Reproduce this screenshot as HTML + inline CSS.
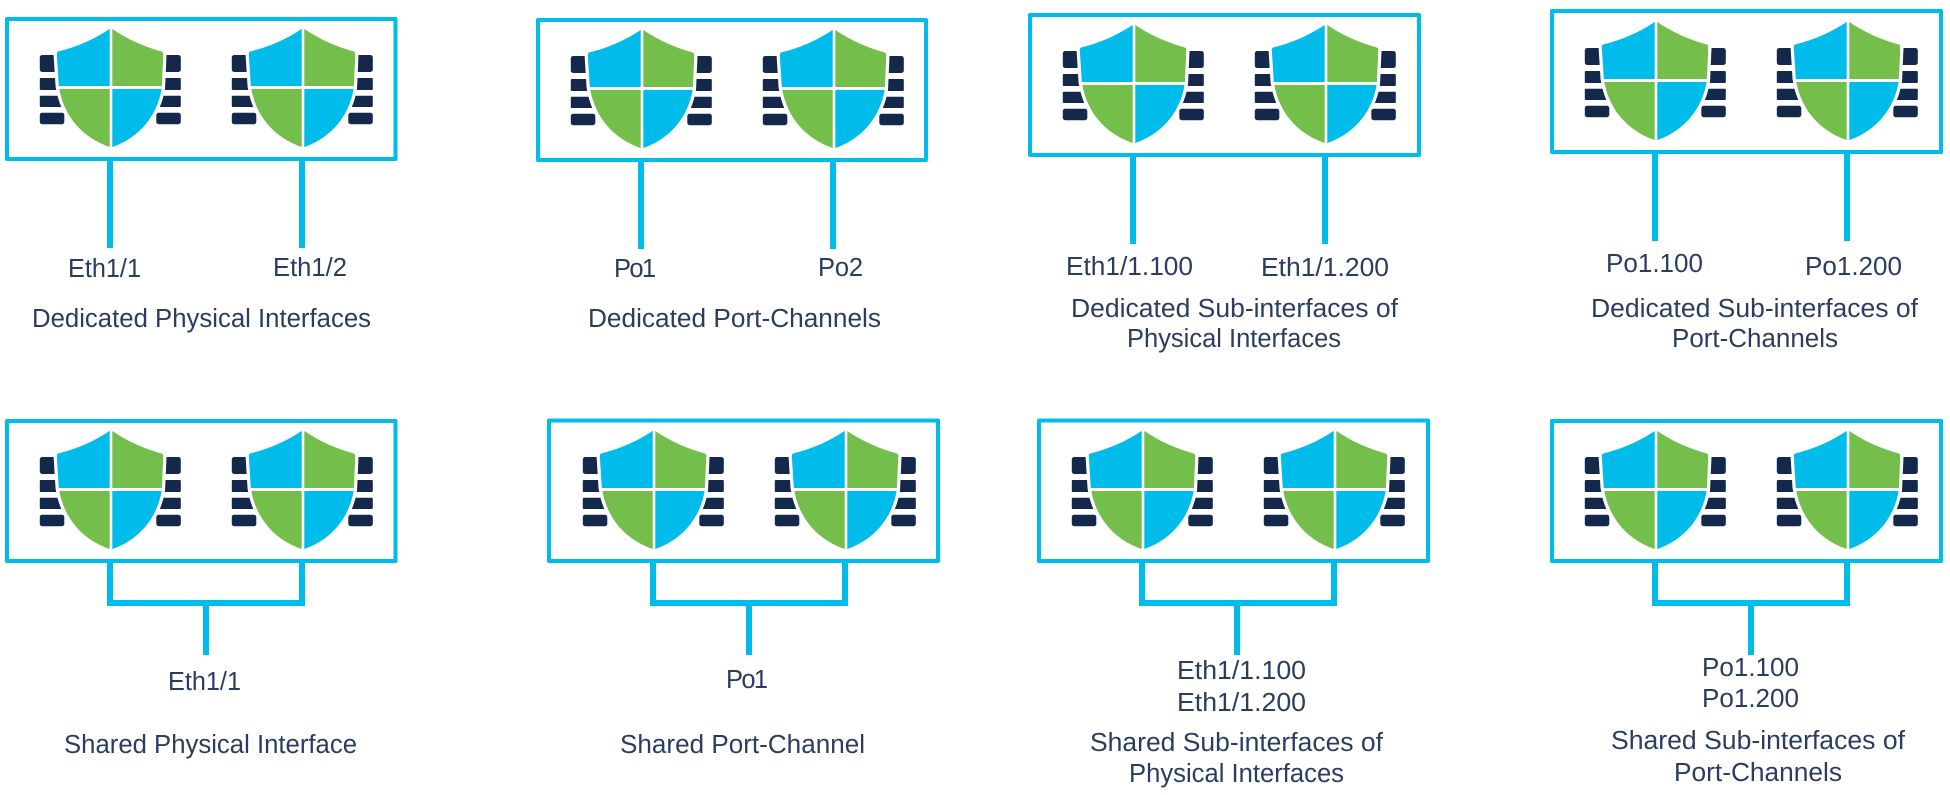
<!DOCTYPE html>
<html lang="en">
<head>
<meta charset="utf-8">
<title>Interface types</title>
<style>
html,body{margin:0;padding:0;background:#fff;}
svg{display:block;}
text{font-family:"Liberation Sans",Arial,sans-serif;font-size:25.5px;fill:#2a3d60;}
.b{fill:none;stroke:#00bceb;stroke-width:4;stroke-linejoin:round;}
.l{fill:none;stroke:#00bceb;stroke-width:6;stroke-linejoin:miter;}
</style>
</head>
<body>
<svg xmlns="http://www.w3.org/2000/svg" width="1950" height="795" viewBox="0 0 1950 795">
<defs>
<path id="sil" d="M0.7,0 C-15,11 -34,19 -52,23.5 Q-53.5,24 -53.5,26 L-51.5,58 C-47,88 -28,110 0.7,119.5 C29,110 47,88 51.5,60 L53,26 Q53,24 51.5,23.5 C35,19 16,11 0.7,0 Z"/>
<clipPath id="sc"><use href="#sil"/></clipPath>
<g id="icon">
<g fill="#14284b">
<rect x="-70.5" y="27" width="24" height="17" rx="2.5"/>
<rect x="-70.5" y="50" width="24" height="12" rx="1"/>
<rect x="-70.5" y="67.7" width="24" height="11.300" rx="1"/>
<rect x="-70.5" y="84.7" width="24.500" height="11.500" rx="2.5"/>
<rect x="46.5" y="27" width="24" height="17" rx="2.5"/>
<rect x="46.5" y="50" width="24" height="12" rx="1"/>
<rect x="46.5" y="67.7" width="24" height="11.300" rx="1"/>
<rect x="46" y="84.7" width="24.500" height="11.500" rx="2.5"/>
</g>
<use href="#sil" fill="#fff" stroke="#fff" stroke-width="6.5" stroke-linejoin="round"/>
<g clip-path="url(#sc)">
<rect x="-60" y="-3" width="59.4" height="61" fill="#00bceb"/>
<rect x="2" y="-3" width="60" height="61" fill="#74bf4b"/>
<rect x="-60" y="61" width="59.4" height="62" fill="#74bf4b"/>
<rect x="2" y="61" width="60" height="62" fill="#00bceb"/>
</g>
</g>
</defs>
<rect width="1950" height="795" fill="#fff"/>

<!-- Panel 1 -->
<rect class="b" x="7" y="19" width="388.5" height="140"/>
<use href="#icon" x="110.3" y="28"/><use href="#icon" x="302.3" y="28"/>
<path class="l" d="M110,161V248M302,161V248"/>
<text x="68" y="277" textLength="73" lengthAdjust="spacingAndGlyphs">Eth1/1</text>
<text x="273" y="276" textLength="74" lengthAdjust="spacingAndGlyphs">Eth1/2</text>
<text x="32" y="327" textLength="339" lengthAdjust="spacingAndGlyphs">Dedicated Physical Interfaces</text>

<!-- Panel 2 -->
<rect class="b" x="538" y="20" width="388" height="140"/>
<use href="#icon" x="641.3" y="29"/><use href="#icon" x="833.3" y="29"/>
<path class="l" d="M641,162V249M833,162V249"/>
<text x="614" y="277" textLength="42" lengthAdjust="spacing">Po1</text>
<text x="818" y="276" textLength="45" lengthAdjust="spacing">Po2</text>
<text x="588" y="327" textLength="293" lengthAdjust="spacingAndGlyphs">Dedicated Port-Channels</text>

<!-- Panel 3 -->
<rect class="b" x="1030" y="15" width="389" height="140"/>
<use href="#icon" x="1133.3" y="24"/><use href="#icon" x="1325.3" y="24"/>
<path class="l" d="M1133,157V244M1325,157V244"/>
<text x="1066" y="275" textLength="127" lengthAdjust="spacingAndGlyphs">Eth1/1.100</text>
<text x="1261" y="276" textLength="128" lengthAdjust="spacingAndGlyphs">Eth1/1.200</text>
<text x="1071" y="317" textLength="327" lengthAdjust="spacingAndGlyphs">Dedicated Sub-interfaces of</text>
<text x="1127" y="347" textLength="214" lengthAdjust="spacingAndGlyphs">Physical Interfaces</text>

<!-- Panel 4 -->
<rect class="b" x="1552" y="11" width="389" height="141"/>
<use href="#icon" x="1655.3" y="21"/><use href="#icon" x="1847.3" y="21"/>
<path class="l" d="M1655,154V241M1847,154V241"/>
<text x="1606" y="272" textLength="97" lengthAdjust="spacingAndGlyphs">Po1.100</text>
<text x="1805" y="275" textLength="97" lengthAdjust="spacingAndGlyphs">Po1.200</text>
<text x="1591" y="317" textLength="327" lengthAdjust="spacingAndGlyphs">Dedicated Sub-interfaces of</text>
<text x="1672" y="347" textLength="166" lengthAdjust="spacingAndGlyphs">Port-Channels</text>

<!-- Panel 5 -->
<rect class="b" x="7" y="421" width="388.5" height="140"/>
<use href="#icon" x="110.3" y="430"/><use href="#icon" x="302.3" y="430"/>
<path class="l" d="M110,563V603H302V563M206,603V655"/>
<text x="168" y="690" textLength="73" lengthAdjust="spacingAndGlyphs">Eth1/1</text>
<text x="64" y="753" textLength="293" lengthAdjust="spacingAndGlyphs">Shared Physical Interface</text>

<!-- Panel 6 -->
<rect class="b" x="549" y="420.500" width="389" height="140.500"/>
<use href="#icon" x="653.3" y="430"/><use href="#icon" x="845.3" y="430"/>
<path class="l" d="M653,563V603H845V563M749,603V655"/>
<text x="726" y="688" textLength="42" lengthAdjust="spacing">Po1</text>
<text x="620" y="753" textLength="245" lengthAdjust="spacingAndGlyphs">Shared Port-Channel</text>

<!-- Panel 7 -->
<rect class="b" x="1039" y="420.500" width="389" height="140.500"/>
<use href="#icon" x="1142.3" y="430"/><use href="#icon" x="1334.3" y="430"/>
<path class="l" d="M1142,563V603H1334V563M1237,603V655"/>
<text x="1177" y="679" textLength="129" lengthAdjust="spacingAndGlyphs">Eth1/1.100</text>
<text x="1177" y="711" textLength="129" lengthAdjust="spacingAndGlyphs">Eth1/1.200</text>
<text x="1090" y="751" textLength="293" lengthAdjust="spacingAndGlyphs">Shared Sub-interfaces of</text>
<text x="1129" y="782" textLength="215" lengthAdjust="spacingAndGlyphs">Physical Interfaces</text>

<!-- Panel 8 -->
<rect class="b" x="1552" y="421" width="389" height="140"/>
<use href="#icon" x="1655.3" y="430"/><use href="#icon" x="1847.3" y="430"/>
<path class="l" d="M1655,563V603H1847V563M1751,603V655"/>
<text x="1702" y="676" textLength="97" lengthAdjust="spacingAndGlyphs">Po1.100</text>
<text x="1702" y="707" textLength="97" lengthAdjust="spacingAndGlyphs">Po1.200</text>
<text x="1611" y="749" textLength="294" lengthAdjust="spacingAndGlyphs">Shared Sub-interfaces of</text>
<text x="1674" y="781" textLength="168" lengthAdjust="spacingAndGlyphs">Port-Channels</text>
</svg>
</body>
</html>
